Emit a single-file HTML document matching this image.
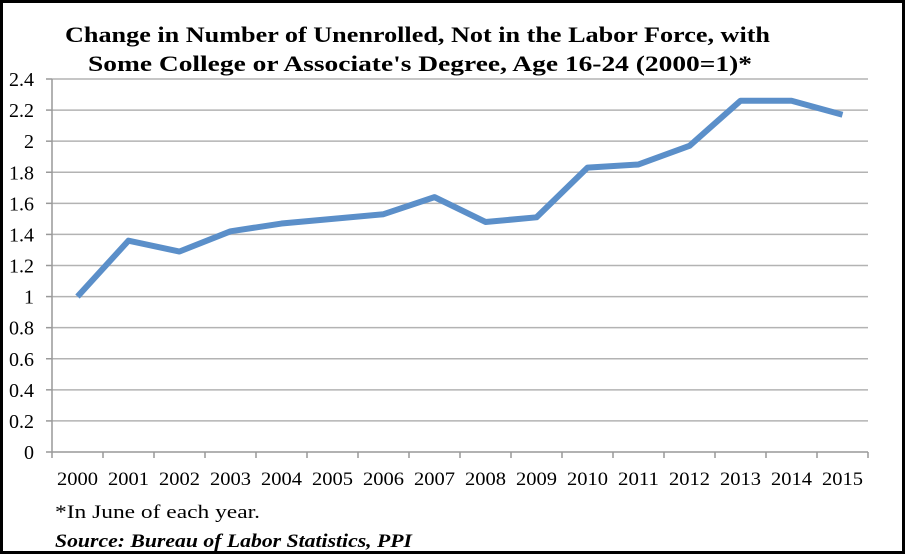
<!DOCTYPE html>
<html><head><meta charset="utf-8"><style>
body{margin:0;background:#fff}
#wrap{position:relative;width:906px;height:556px;overflow:hidden}
svg text{font-family:"Liberation Serif",serif}
</style></head><body>
<div id="wrap">
<svg id="chart" width="906" height="556">
<rect x="1.5" y="1.5" width="902" height="551" fill="#fff" stroke="#000" stroke-width="3"/>
<text x="65" y="42" font-size="22" font-weight="bold" textLength="705" lengthAdjust="spacingAndGlyphs">Change in Number of Unenrolled, Not in the Labor Force, with</text>
<text x="88" y="71" font-size="22" font-weight="bold" textLength="664" lengthAdjust="spacingAndGlyphs">Some College or Associate's Degree, Age 16-24 (2000=1)*</text>
<g id="grid"></g><g id="axes"></g><g id="series"></g>
<text x="55" y="518" font-size="19" textLength="205" lengthAdjust="spacingAndGlyphs">*In June of each year.</text>
<text x="55" y="547" font-size="19" font-weight="bold" font-style="italic" textLength="357" lengthAdjust="spacingAndGlyphs">Source: Bureau of Labor Statistics, PPI</text>
</svg>
</div>
<script>
const years=["2000","2001","2002","2003","2004","2005","2006","2007","2008","2009","2010","2011","2012","2013","2014","2015"];
const values=[1.0,1.36,1.29,1.42,1.47,1.50,1.53,1.64,1.48,1.51,1.83,1.85,1.97,2.26,2.26,2.17];
const yTicks=[0,0.2,0.4,0.6,0.8,1,1.2,1.4,1.6,1.8,2,2.2,2.4];
const yTickLabels=["0","0.2","0.4","0.6","0.8","1","1.2","1.4","1.6","1.8","2","2.2","2.4"];
const NS="http://www.w3.org/2000/svg";
const L=52,R=868,T=79,B=452,yMax=2.4;
const bw=(R-L)/years.length;
const xs=i=>L+bw*(i+0.5);
const ys=v=>B-(v/yMax)*(B-T);
function mk(tag,attrs,parent){const e=document.createElementNS(NS,tag);for(const k in attrs)e.setAttribute(k,attrs[k]);parent.appendChild(e);return e;}
const grid=document.getElementById('grid'),axes=document.getElementById('axes'),ser=document.getElementById('series');
yTicks.forEach((v,i)=>{
 if(v>0){const g=mk('line',{x1:L,x2:R,y1:ys(v),y2:ys(v),stroke:'#b3b3b3','stroke-width':1.5},grid);
 
 }
 const tk=mk('line',{x1:L-6,x2:L,y1:ys(v),y2:ys(v),stroke:'#999','stroke-width':1.5},axes);
 
 
 const t=mk('text',{x:34,y:ys(v)+7,'text-anchor':'end','font-size':20},axes);t.textContent=yTickLabels[i];
 
 
});
const ya=mk('line',{x1:L,x2:L,y1:T,y2:B,stroke:'#999','stroke-width':1.5},axes);


const xa=mk('line',{x1:L,x2:R,y1:B,y2:B,stroke:'#999','stroke-width':1.5},axes);


for(let i=0;i<=years.length;i++){
 const tk=mk('line',{x1:L+bw*i,x2:L+bw*i,y1:B,y2:B+6,stroke:'#999','stroke-width':1.5},axes);
 
 
}
years.forEach((y,i)=>{
 const t=mk('text',{x:xs(i),y:485,'text-anchor':'middle','font-size':19,textLength:41,lengthAdjust:'spacingAndGlyphs'},axes);t.textContent=y;
 
 
});
const pts=values.map((v,i)=>xs(i)+','+ys(v)).join(' ');
const line=mk('polyline',{points:pts,fill:'none',stroke:'#5b8fc9','stroke-width':6,'stroke-linejoin':'round','stroke-linecap':'butt'},ser);


</script>
</body></html>
